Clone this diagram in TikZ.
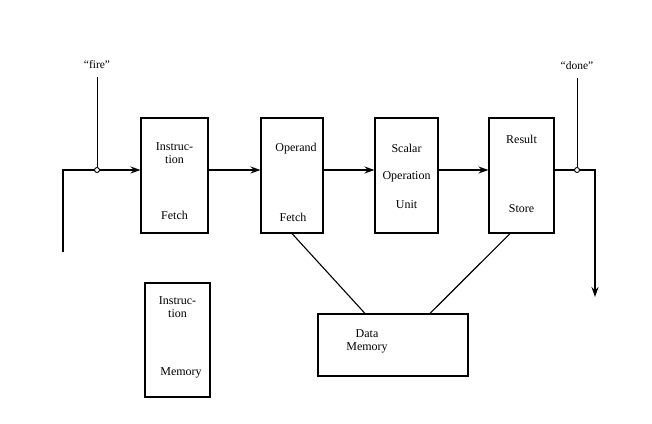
\documentclass[tikz,border=0pt]{standalone}
\usepackage{fontspec}
\setmainfont{Liberation Serif}
\usetikzlibrary{positioning, arrows.meta}

\tikzset{
  blockbox/.style={draw, line width=1.1pt, inner sep=0pt, minimum width=#1},
  blockbox/.default=64pt,
  lbl/.style={font=\fontsize{12}{13}\selectfont, align=center, inner sep=0pt},
  siglbl/.style={font=\fontsize{11.5}{12}\selectfont, inner sep=0pt},
  flow/.style={line width=1.6pt, -{Stealth[length=10pt, width=7pt]}},
  flowplain/.style={line width=1.6pt},
  memline/.style={line width=1.1pt},
  sigline/.style={line width=0.9pt},
  joint/.style={circle, draw, line width=0.9pt, fill=white, inner sep=0pt, minimum size=5pt}
}

\begin{document}
\begin{tikzpicture}[x=1pt, y=-1pt]
\useasboundingbox (0,0) rectangle (652,423);

% Vertical positions
\def\yLine{170}
\def\yBox{175.5}
\def\hBox{115pt}

% Pipeline boxes
\node[blockbox=67pt, minimum height=\hBox] (ifetch) at (174.5,\yBox) {};
\node[blockbox=62pt, minimum height=\hBox] (ofetch) at (292,\yBox) {};
\node[blockbox=63pt, minimum height=\hBox] (scalar) at (406.5,\yBox) {};
\node[blockbox=65pt, minimum height=\hBox] (rstore) at (521.5,\yBox) {};

% Memories
\node[blockbox=65pt, minimum height=114pt] (imem) at (177.5,340) {};
\node[blockbox=150pt, minimum height=62pt] (dmem) at (393,345) {};

% Box texts
\node[lbl] (ifetchA) at (174.5,153) {Instruc-\\tion};
\node[lbl] (ifetchB) at (174.5,215) {Fetch};
\node[lbl] (ofetchA) at (296,149) {Operand};
\node[lbl] (ofetchB) at (293,217) {Fetch};
\node[lbl] (scalarA) at (406.5,148) {Scalar};
\node[lbl] (scalarB) at (406.5,177) {Operation};
\node[lbl] (scalarC) at (406.5,205) {Unit};
\node[lbl] (rstoreA) at (521.5,139) {Result};
\node[lbl] (rstoreB) at (521.5,209) {Store};
\node[lbl] (imemA) at (177.5,307) {Instruc-\\tion};
\node[lbl] (imemB) at (181,373) {Memory};
\node[lbl] (dmemA) at (367,341) {Data\\Memory};

% Signal points on the main line
\coordinate (firept) at (97,\yLine);
\coordinate (donept) at (577,\yLine);
\coordinate (inlow) at (63,252);
\coordinate (outlow) at (595,297);

% Main flow
\draw[flowplain] (inlow) |- (firept);
\draw[flow] (firept) -- (ifetch.west |- firept);
\draw[flow] (ifetch.east |- firept) -- (ofetch.west |- firept);
\draw[flow] (ofetch.east |- firept) -- (scalar.west |- firept);
\draw[flow] (scalar.east |- firept) -- (rstore.west |- firept);
\draw[flowplain] (rstore.east |- donept) -- (donept);
\draw[flow] (donept) -| (outlow);

% "fire" and "done" signals
\node[joint] (firej) at (firept) {};
\node[joint] (donej) at (donept) {};
\node[siglbl] (firelbl) at (97,65) {``fire''};
\node[siglbl] (donelbl) at (577,66) {``done''};
\draw[sigline] (97,77) -- (firej.north);
\draw[sigline] (577,78) -- (donej.north);

% Links to data memory
\draw[memline] (ofetch.south) -- ([xshift=-28pt]dmem.north);
\draw[memline] ([xshift=-11.5pt]rstore.south) -- ([xshift=37pt]dmem.north);

\end{tikzpicture}
\end{document}
